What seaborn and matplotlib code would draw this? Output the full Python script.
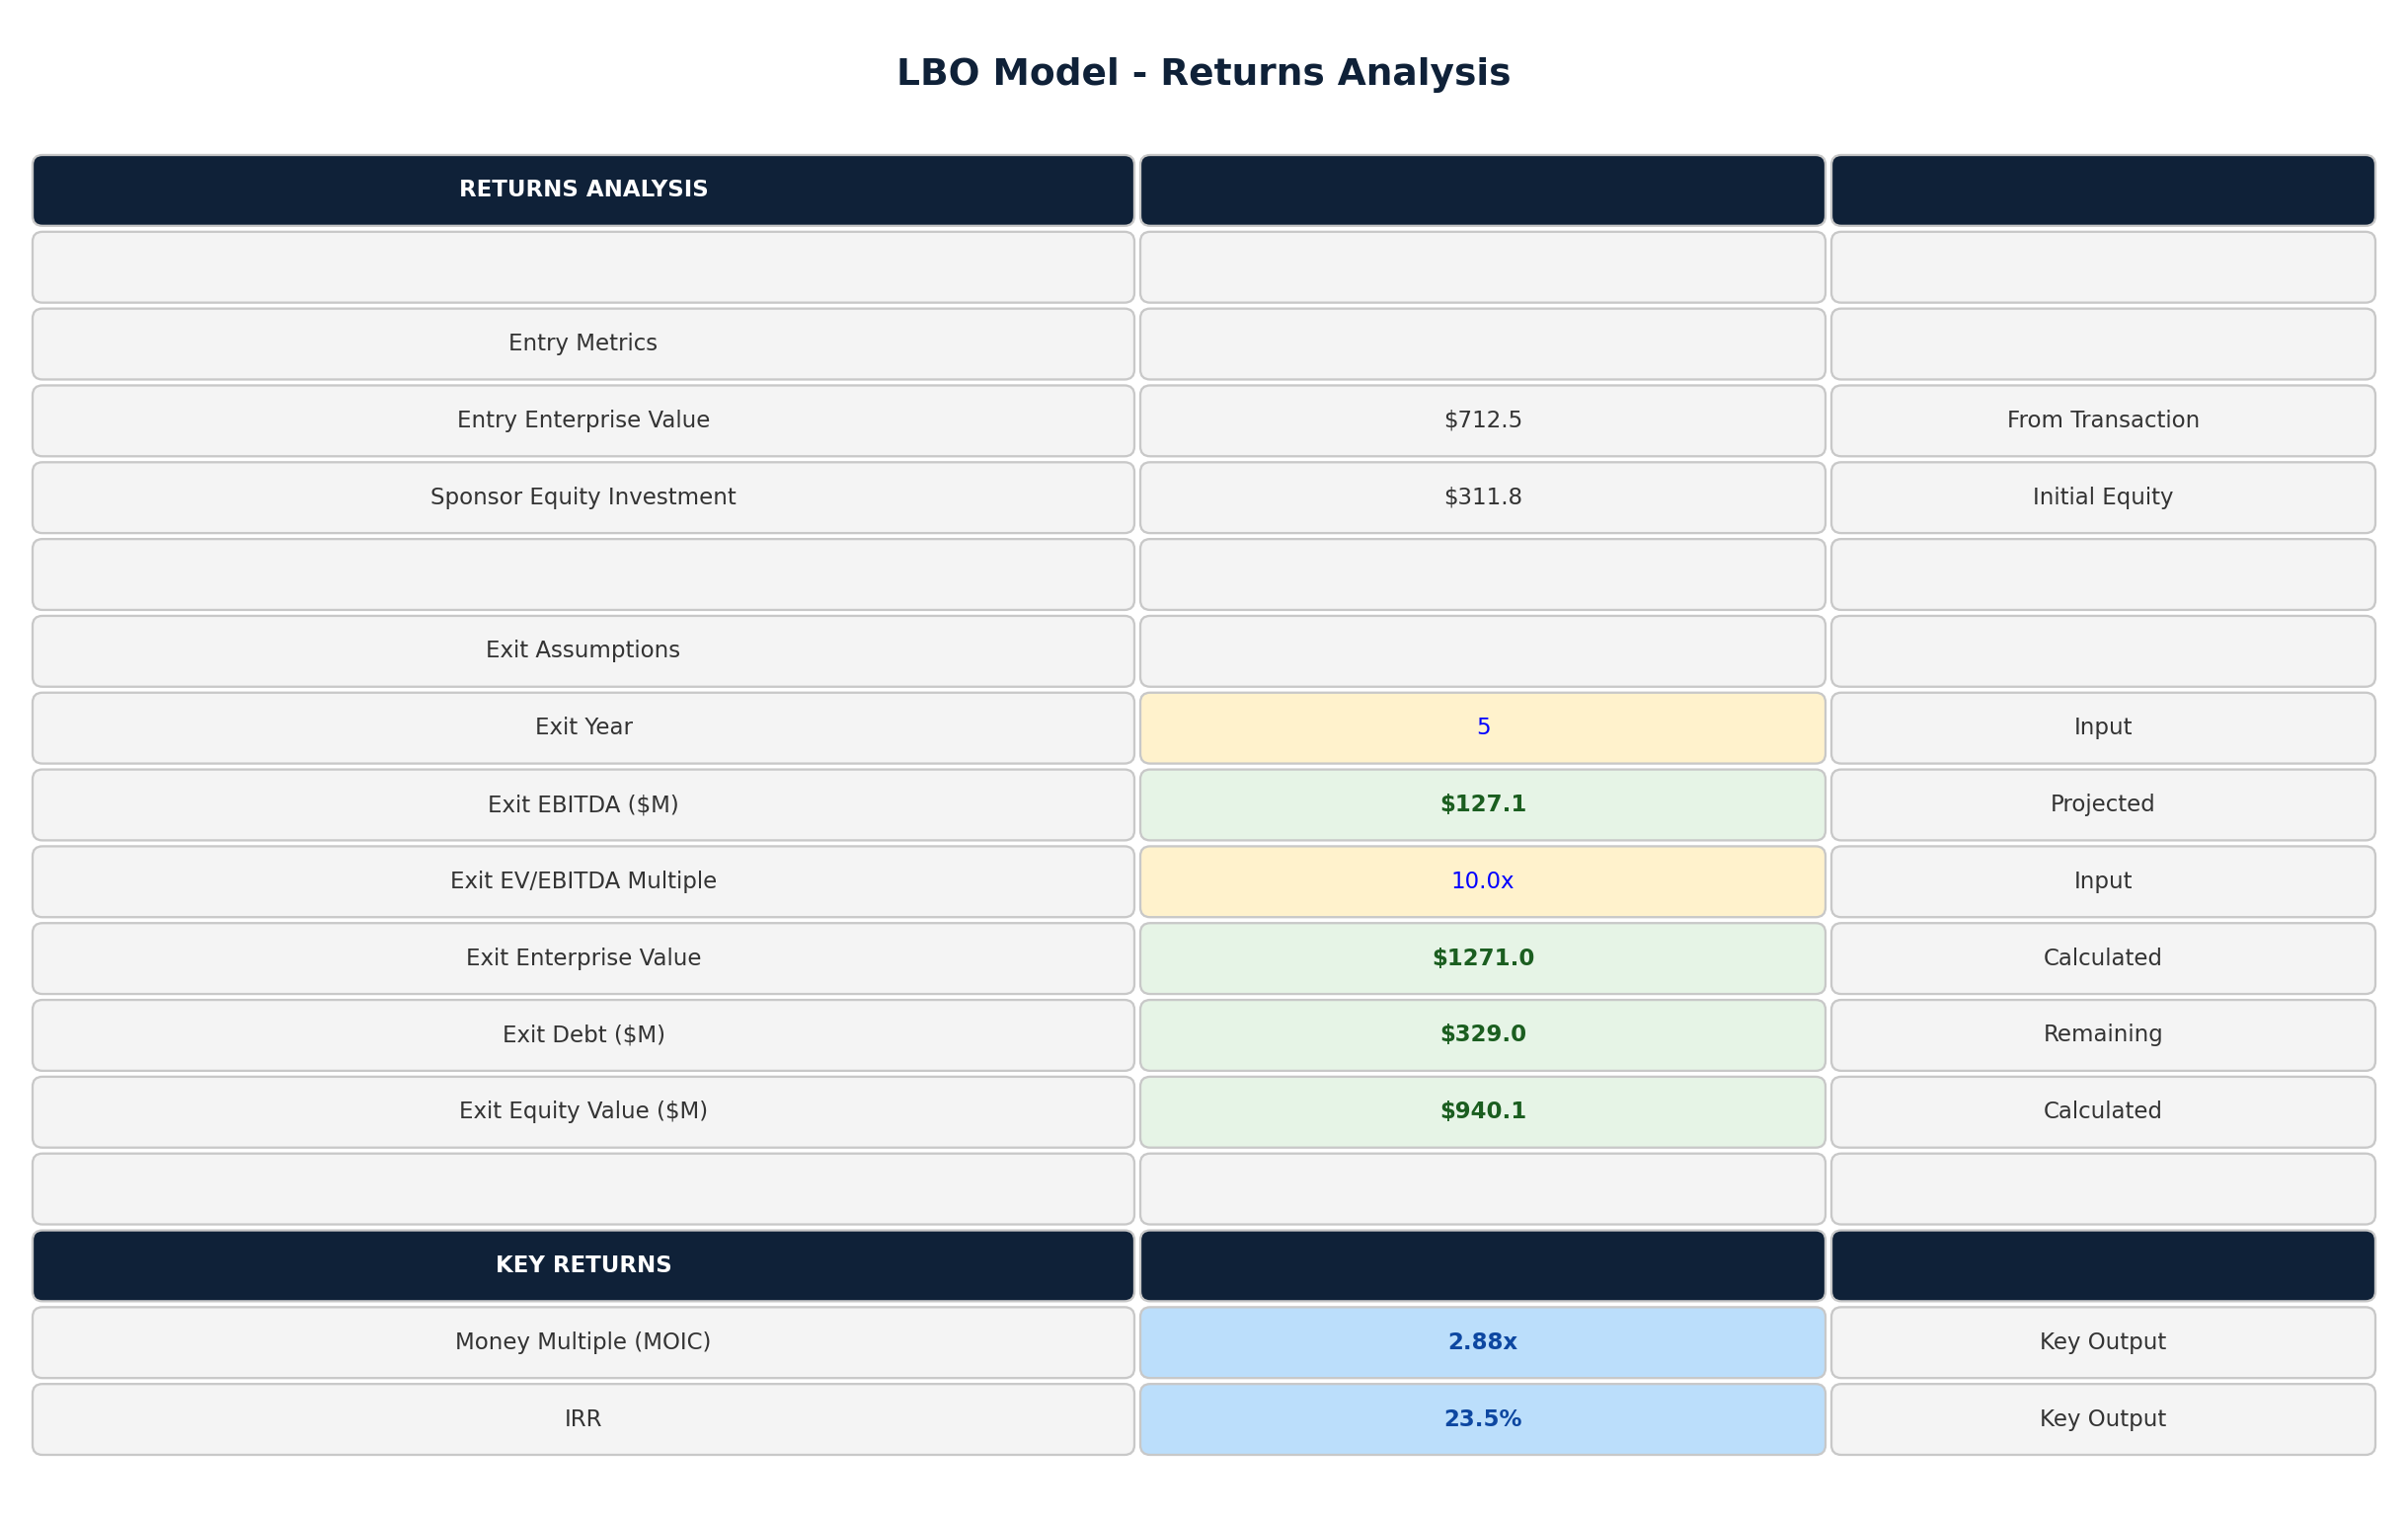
import matplotlib
matplotlib.use("Agg")
import matplotlib.pyplot as plt
import seaborn as sns
from matplotlib.patches import FancyBboxPatch

sns.set_theme(style="white")
plt.rcParams['font.family'] = ['DejaVu Sans']

# table contents
labels = ["RETURNS ANALYSIS", "", "Entry Metrics", "Entry Enterprise Value",
          "Sponsor Equity Investment", "", "Exit Assumptions", "Exit Year",
          "Exit EBITDA ($M)", "Exit EV/EBITDA Multiple", "Exit Enterprise Value",
          "Exit Debt ($M)", "Exit Equity Value ($M)", "", "KEY RETURNS",
          "Money Multiple (MOIC)", "IRR"]
values = ["", "", "", "$712.5", "$311.8", "", "", "5", "$127.1", "10.0x",
          "$1271.0", "$329.0", "$940.1", "", "", "2.88x", "23.5%"]
notes = ["", "", "", "From Transaction", "Initial Equity", "", "", "Input",
         "Projected", "Input", "Calculated", "Remaining", "Calculated", "", "",
         "Key Output", "Key Output"]
# row kind: header / plain / input / calc / key
kinds = ["header", "plain", "plain", "plain", "plain", "plain", "plain", "input",
         "calc", "input", "calc", "calc", "calc", "plain", "header", "key", "key"]

styles = {
    "header": ("#0f2138", "white", "bold"),
    "plain": ("#f4f4f4", "#333333", "normal"),
    "input": ("#fff2cc", "#0000ff", "normal"),
    "calc": ("#e6f4e6", "#1b5e20", "bold"),
    "key": ("#bbdefb", "#0d47a1", "bold"),
}

W, H = 2379, 1323
col_edges = [0, 1122, 1822, W]
row_h = H / len(labels)
gap = 6

fig = plt.figure(figsize=(2439 / 150, 1539 / 150), dpi=150)
ax = fig.add_axes([30 / 2439, (1539 - 154 - H) / 1539, W / 2439, H / 1539])
ax.set_xlim(0, W)
ax.set_ylim(H, 0)
ax.axis("off")

for i, (lab, val, note, kind) in enumerate(zip(labels, values, notes, kinds)):
    y0 = i * row_h + gap / 2
    h = row_h - gap
    for j, txt in enumerate([lab, val, note]):
        x0 = col_edges[j] + gap / 2
        w = col_edges[j + 1] - col_edges[j] - gap
        if kind == "header":
            face, tcol, weight = styles["header"]
        elif j == 1:
            face, tcol, weight = styles[kind]
        else:
            face, tcol, weight = styles["plain"]
        box = FancyBboxPatch((x0, y0), w, h,
                             boxstyle="round,pad=0,rounding_size=10",
                             facecolor=face, edgecolor="#c8c8c8", linewidth=1.1)
        ax.add_patch(box)
        if txt:
            ax.text(x0 + w / 2, y0 + h / 2, txt, ha="center", va="center",
                    color=tcol, fontsize=11, fontweight=weight)

fig.text(0.5, 1 - 76 / 1539, "LBO Model - Returns Analysis", ha="center",
         va="center", fontsize=18, fontweight="bold", color="#0f2138")

fig.savefig("out.png", dpi=150, facecolor="white")
